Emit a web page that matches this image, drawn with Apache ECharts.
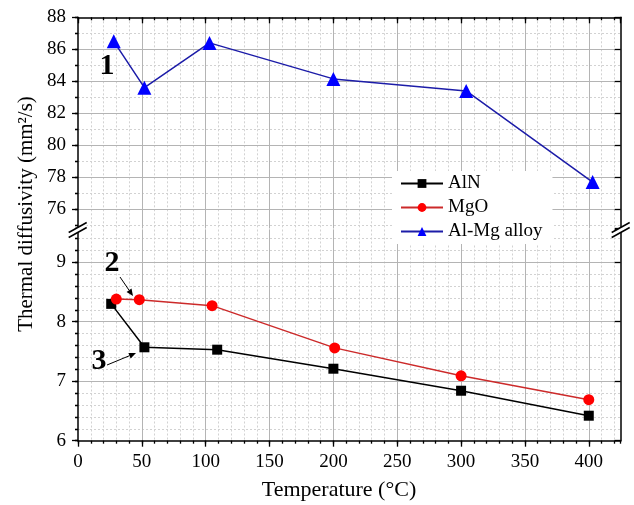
<!DOCTYPE html>
<html>
<head>
<meta charset="utf-8">
<script src="https://cdn.jsdelivr.net/npm/echarts@6/dist/echarts.min.js"></script>
<style>
html,body{margin:0;padding:0;background:#fff;}
#chart{width:634px;height:505px;}
</style>
</head>
<body>
<div id="chart"></div>
<script>
// ---- data ----
const seriesNames = ['AlN', 'MgO', 'Al-Mg alloy'];
const alnTemp = [26, 52, 109, 200, 300, 400];
const alnValue = [8.30, 7.57, 7.53, 7.21, 6.84, 6.42];
const mgoTemp = [30, 48, 105, 201, 300, 400];
const mgoValue = [8.38, 8.37, 8.27, 7.56, 7.09, 6.69];
const almgTemp = [28, 52, 103, 200, 304, 403];
const almgValue = [86.5, 83.6, 86.4, 84.15, 83.4, 77.7];
const xLabel = 'Temperature (°C)';
const yLabel = 'Thermal diffusivity (mm²/s)';
const annotations = ['1', '2', '3'];

const FONT = '"Liberation Serif", "Times New Roman", serif';
const pair = (xs, ys) => xs.map((x, i) => [x, ys[i]]);

const GL = 78, GW = 542.7;
const topGrid = {left: GL, top: 17.3, width: GW, height: 211.2};
const botGrid = {left: GL, top: 229.5, width: GW, height: 211.2};

const majorSplit = {show: true, showMinLine: false, showMaxLine: false, lineStyle: {color: '#b4b4b4', width: 1, type: 'solid'}};
const minorSplit = {show: true, showMinLine: false, showMaxLine: false, lineStyle: {color: '#d2d2d2', width: 1, type: [2, 2]}};
const axLine = {show: true, onZero: false, lineStyle: {color: '#000', width: 1.5}};
const noLine = {show: false};
const lbl = {color: '#000', fontSize: 19, fontFamily: FONT};

function xAx(grid, pos, interval, major, inside, labels) {
  return {
    type: 'value', gridIndex: grid, position: pos, min: 0, max: 425, interval: interval,
    z: major ? 1 : 0,
    axisLine: major ? axLine : noLine,
    axisTick: {show: true, inside: inside, length: major ? 6 : 3, lineStyle: {color: '#000', width: 1.3}},
    axisLabel: labels ? Object.assign({show: true, margin: 12, showMaxLabel: false}, lbl) : {show: false},
    splitLine: major ? majorSplit : minorSplit
  };
}

const xAxes = [
  xAx(1, 'bottom', 50, true, false, true),
  xAx(1, 'bottom', 10, false, false, false),
  xAx(0, 'top', 50, true, true, false),
  xAx(0, 'top', 10, false, true, false)
];

function yTop(pos, major, left) {
  return {
    type: 'value', gridIndex: 0, position: pos, min: 74.8, max: 88,
    splitNumber: major ? 7 : 13,
    minInterval: major ? 2 : 1, maxInterval: major ? 2 : 1,
    z: major ? 1 : 0,
    axisLine: major ? axLine : noLine,
    axisTick: {show: true, inside: !left, length: major ? 6 : 3, lineStyle: {color: '#000', width: 1.3}},
    axisLabel: (left && major) ? Object.assign({show: true, margin: 12, showMinLabel: false}, lbl) : {show: false},
    splitLine: left ? (major ? majorSplit : minorSplit) : {show: false}
  };
}
function yBot(pos, major, left) {
  return {
    type: 'value', gridIndex: 1, position: pos, min: 6, max: 9.55,
    interval: major ? 1 : 0.2,
    z: major ? 1 : 0,
    axisLine: major ? axLine : noLine,
    axisTick: {show: true, inside: !left, length: major ? 6 : 3, lineStyle: {color: '#000', width: 1.3}},
    axisLabel: (left && major) ? Object.assign({show: true, margin: 12, showMaxLabel: false}, lbl) : {show: false},
    splitLine: left ? (major ? majorSplit : minorSplit) : {show: false}
  };
}
const yAxes = [
  yTop('left', true, true), yTop('left', false, true),
  yTop('right', true, false), yTop('right', false, false),
  yBot('left', true, true), yBot('left', false, true),
  yBot('right', true, false), yBot('right', false, false)
];

// ---- decorations (titles, annotations, arrows, axis breaks) ----
function arrow(x1, y1, x2, y2) {
  const dx = x2 - x1, dy = y2 - y1, L = Math.hypot(dx, dy);
  const ux = dx / L, uy = dy / L, hl = 7, hw = 3;
  const bx = x2 - ux * hl, by = y2 - uy * hl;
  return [
    {type: 'line', shape: {x1: x1, y1: y1, x2: bx, y2: by}, style: {stroke: '#000', lineWidth: 1}, z: 10},
    {type: 'polygon', shape: {points: [[x2, y2], [bx - uy * hw, by + ux * hw], [bx + uy * hw, by - ux * hw]]}, style: {fill: '#000'}, z: 10}
  ];
}
function brk(cx, cy) {
  const w = 9, h = 5, g = 2.5;
  return [
    {type: 'polygon', shape: {points: [[cx - w, cy + h - g], [cx + w, cy - h - g], [cx + w, cy - h + g], [cx - w, cy + h + g]]}, style: {fill: '#fff'}, z: 20},
    {type: 'line', shape: {x1: cx - w, y1: cy + h - g, x2: cx + w, y2: cy - h - g}, style: {stroke: '#000', lineWidth: 1.5}, z: 21},
    {type: 'line', shape: {x1: cx - w, y1: cy + h + g, x2: cx + w, y2: cy - h + g}, style: {stroke: '#000', lineWidth: 1.5}, z: 21}
  ];
}
const annStyle = {fill: '#000', font: 'bold 30px ' + FONT, textAlign: 'center', textVerticalAlign: 'middle'};
const graphics = [
  {type: 'text', x: 26, y: 214, rotation: Math.PI / 2,
   style: {text: yLabel, fill: '#000', font: '21px ' + FONT, textAlign: 'center', textVerticalAlign: 'middle'}},
  {type: 'text', x: 339, y: 490,
   style: {text: xLabel, fill: '#000', font: '22px ' + FONT, textAlign: 'center', textVerticalAlign: 'middle'}},
  {type: 'text', x: 107, y: 66, style: Object.assign({text: annotations[0]}, annStyle), z: 10},
  {type: 'text', x: 112, y: 263, style: Object.assign({text: annotations[1]}, annStyle), z: 10},
  {type: 'text', x: 99, y: 361, style: Object.assign({text: annotations[2]}, annStyle), z: 10}
].concat(arrow(120, 277, 133, 296), arrow(107, 365, 136, 353),
         brk(GL - 0.3, 230), brk(GL + GW, 230));

const option = {
  animation: false,
  backgroundColor: '#fff',
  grid: [
    Object.assign({outerBoundsMode: 'none', containLabel: false}, topGrid),
    Object.assign({outerBoundsMode: 'none', containLabel: false}, botGrid)
  ],
  xAxis: xAxes,
  yAxis: yAxes,
  legend: {
    data: seriesNames, orient: 'vertical', left: 392, top: 171,
    itemWidth: 42, itemHeight: 11, itemGap: 5,
    padding: [3, 10, 3, 8],
    backgroundColor: '#fff',
    textStyle: {color: '#000', fontSize: 19, fontFamily: FONT},
    z: 5
  },
  series: [
    {name: seriesNames[0], type: 'line', xAxisIndex: 0, yAxisIndex: 4, data: pair(alnTemp, alnValue),
     symbol: 'rect', symbolSize: 10, color: '#000',
     itemStyle: {color: '#000'}, lineStyle: {color: '#000', width: 1.5}, z: 3},
    {name: seriesNames[1], type: 'line', xAxisIndex: 0, yAxisIndex: 4, data: pair(mgoTemp, mgoValue),
     symbol: 'circle', symbolSize: 11, color: '#ff0000',
     itemStyle: {color: '#ff0000'}, lineStyle: {color: '#cc2a2a', width: 1.5}, z: 3},
    {name: seriesNames[2], type: 'line', xAxisIndex: 2, yAxisIndex: 0, data: pair(almgTemp, almgValue),
     symbol: 'triangle', symbolSize: 14, color: '#0000ff',
     itemStyle: {color: '#0000ff'}, lineStyle: {color: '#1c1ca8', width: 1.5}, z: 3}
  ],
  graphic: graphics
};

const chart = echarts.init(document.getElementById('chart'), null, {renderer: 'canvas'});
chart.setOption(option);
</script>
</body>
</html>
